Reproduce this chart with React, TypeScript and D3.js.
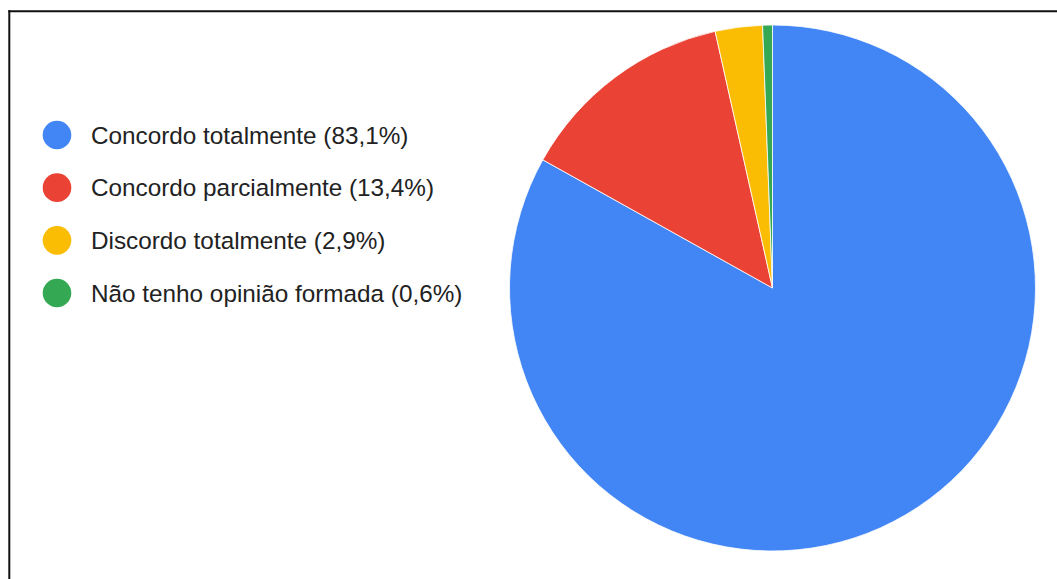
import React from "react";
import * as d3 from "d3";

const categories = [
  "Concordo totalmente",
  "Concordo parcialmente",
  "Discordo totalmente",
  "Não tenho opinião formada",
];
const values = [83.1, 13.4, 2.9, 0.6];
const valueLabels = ["83,1%", "13,4%", "2,9%", "0,6%"];
const colors = ["#4285F4", "#EA4335", "#FBBC04", "#34A853"];

const W = 1057;
const H = 579;

export default function App() {
  const cx = 772.5;
  const cy = 288;
  const r = 263;
  const pie = d3
    .pie<number>()
    .sort(null)
    .value((d) => d)
    .startAngle(0)
    .endAngle(2 * Math.PI);
  const arcs = pie(values);
  const arcGen = d3.arc<d3.PieArcDatum<number>>().innerRadius(0).outerRadius(r);

  const legendY = d3
    .scalePoint<number>()
    .domain(d3.range(categories.length))
    .range([135, 293]);

  return (
    <svg
      width={W}
      height={H}
      style={{ position: "absolute", left: 0, top: 0, background: "#fff" }}
      fontFamily="Arial, 'Liberation Sans', sans-serif"
    >
      <rect x={0} y={0} width={W} height={H} fill="#fff" />
      <line x1={8.3} y1={11.3} x2={W} y2={11.3} stroke="#111" strokeWidth={2} />
      <line x1={9.3} y1={10.3} x2={9.3} y2={H} stroke="#111" strokeWidth={2} />
      <g transform={`translate(${cx},${cy})`}>
        {arcs.map((a, i) => (
          <path
            key={i}
            d={arcGen(a) || ""}
            fill={colors[i]}
            stroke="#fff"
            strokeWidth={0.8}
          />
        ))}
      </g>
      <g>
        {categories.map((c, i) => (
          <g key={c} transform={`translate(0,${legendY(i)})`}>
            <circle cx={57} cy={0} r={14.3} fill={colors[i]} />
            <text x={91} y={8.5} fontSize={24.3} fill="#222">
              {`${c} (${valueLabels[i]})`}
            </text>
          </g>
        ))}
      </g>
    </svg>
  );
}
